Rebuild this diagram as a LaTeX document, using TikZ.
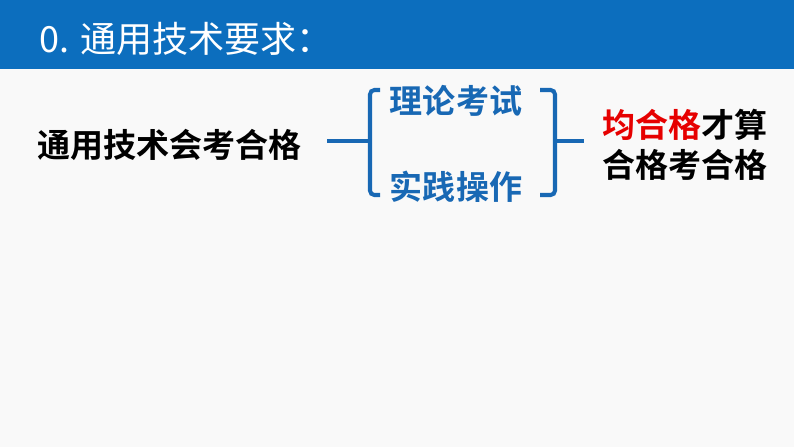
\documentclass[tikz,border=0pt]{standalone}
\usepackage{fontspec}
\usepackage{xcolor}
\newfontfamily\cjk{Noto Sans CJK SC}[BoldFont={Noto Sans CJK SC Bold}]
\definecolor{barblue}{RGB}{12,110,190}
\definecolor{braceblue}{RGB}{24,104,180}
\definecolor{pagegray}{RGB}{249,249,249}
\definecolor{hotred}{RGB}{230,0,0}
\usetikzlibrary{positioning, calc}

\begin{document}
\begin{tikzpicture}[
    txt/.style={inner sep=0pt, font=\cjk\bfseries\fontsize{18.8}{22.8}\selectfont},
    brc/.style={draw=braceblue, line width=2.3pt, rounded corners=2.5pt},
    lnk/.style={draw=braceblue, line width=2.3pt}
]

% page and header bar
\fill[pagegray] (0,0) rectangle (15.88,-8.94);
\fill[barblue] (0,0) rectangle (15.88,-1.38);
\useasboundingbox (0,0) rectangle (15.88,-8.94);

\node[anchor=west, inner sep=0pt, text=white,
      font=\cjk\fontsize{20.5}{24}\selectfont] (title) at (0.78,-0.78) {0. 通用技术要求：};

\node[txt, anchor=west] (main) at (0.74,-2.9) {通用技术会考合格};

\node[txt, text=braceblue] (theory) at (9.12,-2.02) {理论考试};
\node[txt, text=braceblue] (practice) at (9.12,-3.74) {实践操作};

\node[txt, anchor=west, align=left] (result) at (12.04,-2.9)
    {\textcolor{hotred}{均合格}才算\\合格考合格};

% brackets
\coordinate (ljoin) at (7.4,-2.82);
\coordinate (rjoin) at (11.1,-2.82);

\draw[brc] (7.6,-1.8) -- (7.4,-1.8) -- (7.4,-3.9) -- (7.6,-3.9);
\draw[brc] (10.8,-1.8) -- (11.1,-1.8) -- (11.1,-3.9) -- (10.8,-3.9);

\draw[lnk] (main.east |- ljoin) ++(0.5,0) -- (ljoin);
\draw[lnk] (rjoin) -- ($(result.west |- rjoin)+(-0.36,0)$);

\end{tikzpicture}
\end{document}
